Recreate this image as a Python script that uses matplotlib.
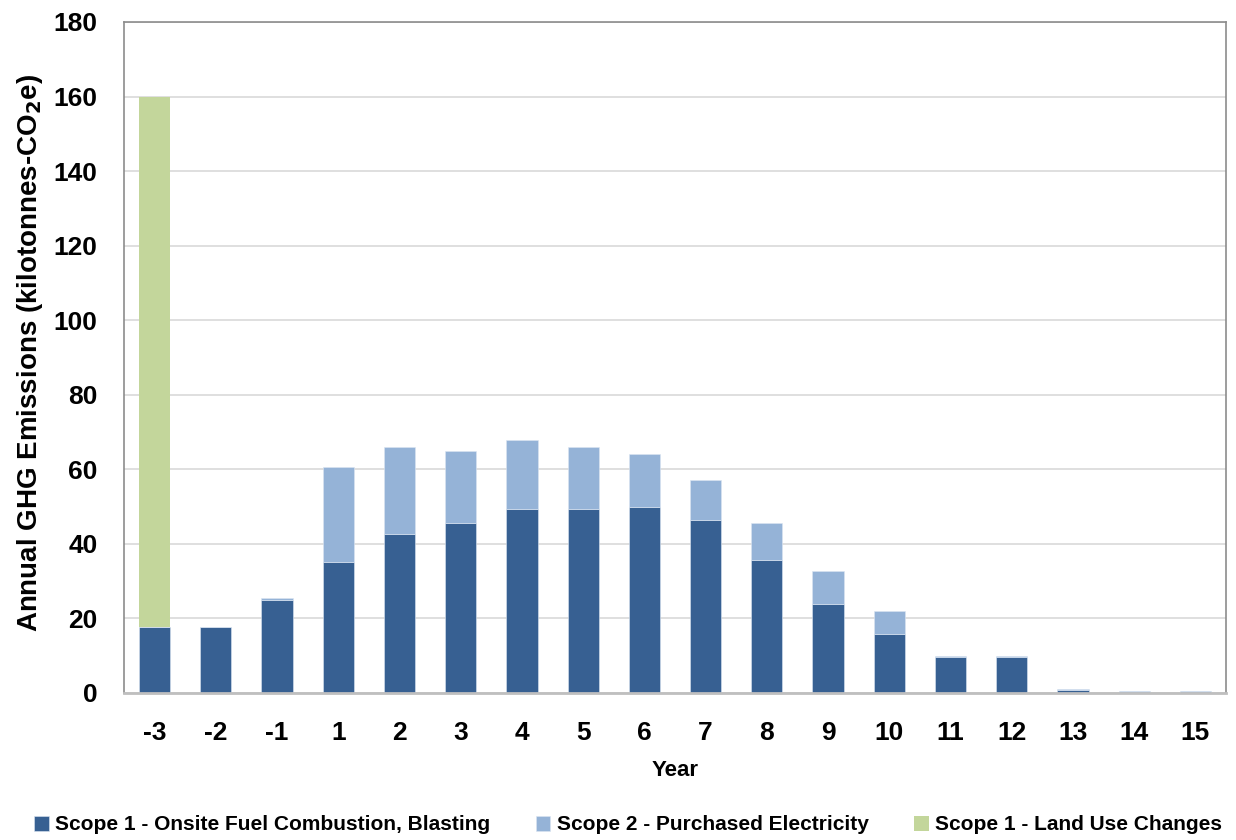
import matplotlib
matplotlib.use("Agg")
import matplotlib.pyplot as plt
import numpy as np

years = ["-3", "-2", "-1", "1", "2", "3", "4", "5", "6", "7", "8", "9", "10", "11", "12", "13", "14", "15"]
scope1_fuel = [17.6, 17.6, 25.0, 35.2, 42.7, 45.7, 49.3, 49.3, 50.0, 46.3, 35.7, 24.0, 15.8, 9.6, 9.6, 0.7, 0.05, 0.05]
scope2_elec = [0.0, 0.0, 0.4, 25.5, 23.2, 19.1, 18.5, 16.6, 14.1, 10.8, 10.0, 8.8, 6.3, 0.3, 0.3, 0.4, 0.4, 0.4]
scope1_land = [142.4, 0, 0, 0, 0, 0, 0, 0, 0, 0, 0, 0, 0, 0, 0, 0, 0, 0]
series_names = ["Scope 1 - Onsite Fuel Combustion, Blasting",
                "Scope 2 - Purchased Electricity",
                "Scope 1 - Land Use Changes"]
yticks = [0, 20, 40, 60, 80, 100, 120, 140, 160, 180]

FAM = ["Liberation Sans", "DejaVu Sans"]
plt.rcParams['font.family'] = FAM
plt.rcParams['font.weight'] = 'bold'

c_dark = "#376092"
c_light = "#95B3D7"
c_green = "#C3D69B"

fig = plt.figure(figsize=(12.36, 8.4), dpi=100)
ax = fig.add_axes([124/1236, 1-693/840, (1226-124)/1236, (693-22)/840])

x = np.arange(len(years))
w = 0.51
s1 = np.array(scope1_fuel)
s2 = np.array(scope2_elec)
s3 = np.array(scope1_land)
ax.bar(x, s1, w, color=c_dark, edgecolor="#dce6f2", linewidth=0.4, label=series_names[0], zorder=3)
ax.bar(x, s2, w, bottom=s1, color=c_light, edgecolor="#dce6f2", linewidth=0.4, label=series_names[1], zorder=3)
ax.bar(x, s3, w, bottom=s1 + s2, color=c_green, edgecolor="none", linewidth=0, label=series_names[2], zorder=3)

ax.set_xlim(-0.5, len(years) - 0.5)
ax.set_ylim(0, 180)
ax.set_yticks(yticks)
ax.set_xticks(x)
ax.set_xticklabels(years)
ax.yaxis.grid(True, color="#d9d9d9", linewidth=1.2, zorder=0)
ax.set_axisbelow(True)
for side in ["left", "right", "top"]:
    ax.spines[side].set_color("#8c8c8c")
    ax.spines[side].set_linewidth(1.2)
ax.spines["bottom"].set_color("#bfbfbf")
ax.spines["bottom"].set_linewidth(2)
ax.spines["bottom"].set_zorder(4)
ax.tick_params(axis="both", length=0, labelsize=19)
ax.tick_params(axis="y", pad=19)
ax.tick_params(axis="x", pad=20)
for lab in ax.get_xticklabels() + ax.get_yticklabels():
    lab.set_fontweight("bold")

fig.text(30/1236, 1-353/840, "Annual GHG Emissions (kilotonnes-CO$_\\mathbf{2}$e)", rotation=90,
         ha="center", va="center", fontsize=20, fontweight="bold")
fig.text(675/1236, 1-770/840, "Year", ha="center", va="center", fontsize=16, fontweight="bold")

handles, labels = ax.get_legend_handles_labels()
leg = fig.legend(handles, labels, loc="center", bbox_to_anchor=(628/1236, 1-825/840), ncol=3,
                 frameon=False, handlelength=0.7, handleheight=0.7,
                 handletextpad=0.3, columnspacing=2.2, prop={"weight": "bold", "size": 15})

fig.savefig("out.png", dpi=100)
